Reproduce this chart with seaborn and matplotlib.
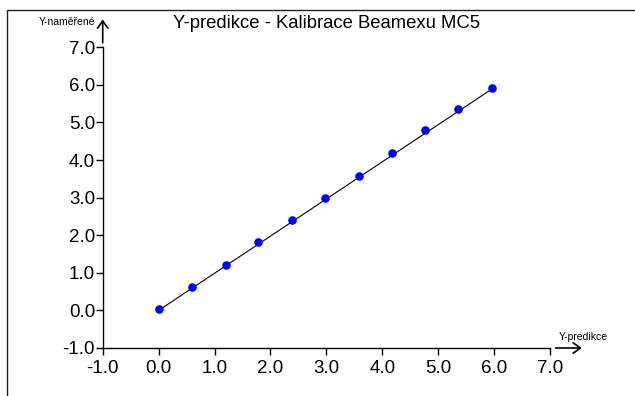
import matplotlib
matplotlib.use("Agg")
import matplotlib.pyplot as plt
from matplotlib.lines import Line2D
import seaborn as sns
import pandas as pd

# ---- data ----
x_pred = [0.0, 0.6, 1.2, 1.78, 2.38, 2.98, 3.58, 4.18, 4.77, 5.36, 5.97]
y_meas = [0.04, 0.61, 1.20, 1.83, 2.41, 2.99, 3.58, 4.20, 4.79, 5.36, 5.93]
line_x = [0.0, 5.97]
line_y = [0.0, 5.90]
tick_vals = [-1, 0, 1, 2, 3, 4, 5, 6, 7]
tick_labels = ["-1.0", "0.0", "1.0", "2.0", "3.0", "4.0", "5.0", "6.0", "7.0"]
title = "Y-predikce - Kalibrace Beamexu MC5"
xlabel = "Y-predikce"
ylabel = "Y-naměřené"

sns.set_style("ticks")
plt.rcParams["font.family"] = ["Liberation Sans", "DejaVu Sans"]

pts = pd.DataFrame({"x": x_pred, "y": y_meas})
fit = pd.DataFrame({"x": line_x, "y": line_y})

fig = plt.figure(figsize=(6.35, 3.96), dpi=100)
ax = fig.add_axes([102.7 / 635, 1 - 348 / 396, (550 - 102.7) / 635, (348 - 47.3) / 396])

sns.lineplot(data=fit, x="x", y="y", ax=ax, color="black", linewidth=0.8)
sns.scatterplot(data=pts, x="x", y="y", ax=ax, color="#0000ff", s=38,
                linewidth=0, zorder=3)

ax.set_xlim(-1, 7)
ax.set_ylim(-1, 7)
ax.set_xticks(tick_vals)
ax.set_xticklabels(tick_labels)
ax.set_yticks(tick_vals)
ax.set_yticklabels(tick_labels)
ax.set_xlabel("")
ax.set_ylabel("")
for s in ["top", "right"]:
    ax.spines[s].set_visible(False)
for s in ["left", "bottom"]:
    ax.spines[s].set_color("black")
    ax.spines[s].set_linewidth(1.0)
ax.tick_params(axis="both", direction="out", length=5, width=1.0,
               color="black", labelcolor="black", labelsize=13.5)
ax.tick_params(axis="y", pad=0.5)
ax.tick_params(axis="x", pad=3.5)

# axis arrows
astyle = "->,head_length=0.35,head_width=0.25"
ax.annotate("", xy=(-1, 7.74), xytext=(-1, 7.12), xycoords="data",
            arrowprops=dict(arrowstyle=astyle, color="black", lw=1.2,
                            mutation_scale=15, shrinkA=0, shrinkB=0),
            annotation_clip=False)
ax.annotate("", xy=(7.57, -1), xytext=(7.10, -1), xycoords="data",
            arrowprops=dict(arrowstyle=astyle, color="black", lw=1.2,
                            mutation_scale=15, shrinkA=0, shrinkB=0),
            annotation_clip=False)

ax.text(-1.14, 7.68, ylabel, ha="right", va="center", fontsize=7.5,
        color="black", clip_on=False)
ax.text(7.163, -0.72, xlabel, ha="left", va="center", fontsize=7.5,
        color="black", clip_on=False)

fig.text(327 / 635, 1 - 23 / 396, title, ha="center", va="center",
         fontsize=13.3, color="black")

# window frame (top and left edges)
fig.add_artist(Line2D([7 / 635, 1], [1 - 10 / 396, 1 - 10 / 396],
                      transform=fig.transFigure, color="#222222", lw=1.0))
fig.add_artist(Line2D([7 / 635, 7 / 635], [0, 1 - 10 / 396],
                      transform=fig.transFigure, color="#222222", lw=1.0))

fig.savefig("out.png", dpi=100)
